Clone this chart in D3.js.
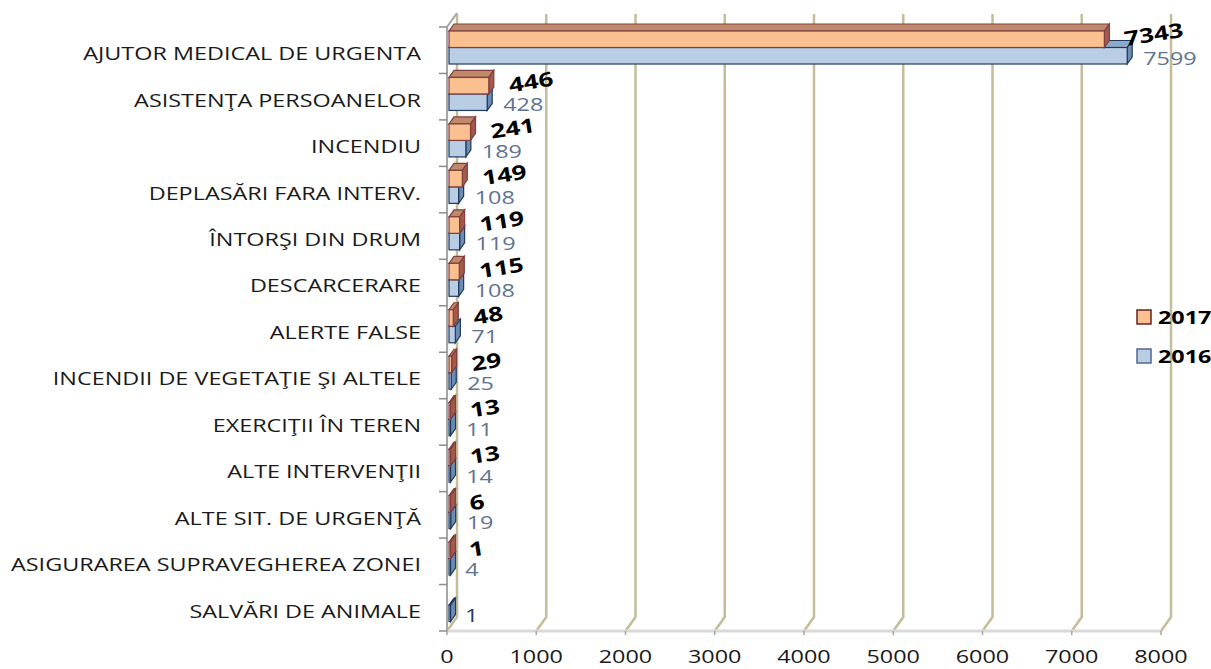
<!DOCTYPE html>
<html>
<head>
<meta charset="utf-8">
<script src="https://cdn.jsdelivr.net/npm/d3@7"></script>
<style>
  body { margin: 0; background: #fff; }
  text { font-family: "Open Sans", sans-serif; }
</style>
</head>
<body>
<div id="chart"></div>
<script>
var categories = [
  "AJUTOR MEDICAL DE URGENTA",
  "ASISTENŢA PERSOANELOR",
  "INCENDIU",
  "DEPLASĂRI FARA INTERV.",
  "ÎNTORŞI DIN DRUM",
  "DESCARCERARE",
  "ALERTE FALSE",
  "INCENDII DE VEGETAŢIE ŞI ALTELE",
  "EXERCIŢII ÎN TEREN",
  "ALTE INTERVENŢII",
  "ALTE SIT. DE URGENŢĂ",
  "ASIGURAREA SUPRAVEGHEREA ZONEI",
  "SALVĂRI DE ANIMALE"
];
var values2017 = [7343, 446, 241, 149, 119, 115, 48, 29, 13, 13, 6, 1, 0];
var values2016 = [7599, 428, 189, 108, 119, 108, 71, 25, 11, 14, 19, 4, 1];
var seriesNames = ["2017", "2016"];
var xTicks = [0, 1000, 2000, 3000, 4000, 5000, 6000, 7000, 8000];

var width = 1211, height = 669;
var SX = 1.3;          // horizontal stretch of the text
var wallDx = 10, wallDy = -14;   // depth of the back wall
var barDx = 5, barDy = -7;       // depth of each bar

var colors = {
  "2017": { face: "#fac090", top: "#bf8a6c", side: "#a5594a", line: "#7f3f3f", label: "#000" },
  "2016": { face: "#b9cde5", top: "#8eaacb", side: "#6d8cb4", line: "#1f3a5f", label: "#5f7391" }
};

var svg = d3.select("#chart").append("svg")
  .attr("width", width)
  .attr("height", height);

var x = d3.scaleLinear().domain([0, 8000]).range([447, 1161]);
var y = d3.scaleBand().domain(categories).range([27, 631]);
var ySeries = d3.scaleBand().domain(seriesNames).range([4, 37]);
var floorY = y.range()[1];
var topY = y.range()[0];

function sText(g, px, py, str, rot) {
  return g.append("text")
    .attr("transform", "translate(" + px + "," + py + ")" + (rot ? " rotate(" + rot + ")" : "") + " scale(" + SX + ",1)")
    .attr("dominant-baseline", "central")
    .text(str);
}

// back wall gridlines with slant to the floor front edge
var grid = svg.append("g");
xTicks.forEach(function (t) {
  grid.append("path")
    .attr("d", "M" + (x(t) + wallDx) + "," + (topY + wallDy + 1) +
      "L" + (x(t) + wallDx) + "," + (floorY + wallDy) +
      "L" + x(t) + "," + floorY)
    .attr("fill", "none")
    .attr("stroke", "#c4bd97")
    .attr("stroke-width", 2.5);
});

// floor front edge
svg.append("line")
  .attr("x1", x(0)).attr("x2", x(8000))
  .attr("y1", floorY).attr("y2", floorY)
  .attr("stroke", "#d9d9d9").attr("stroke-width", 3);

// bottom tick marks
xTicks.forEach(function (t) {
  svg.append("line")
    .attr("x1", x(t)).attr("x2", x(t))
    .attr("y1", floorY).attr("y2", floorY + 4)
    .attr("stroke", "#a6a6a6").attr("stroke-width", 1.5);
});

// left axis
svg.append("path")
  .attr("d", "M" + (x(0) + wallDx) + "," + (topY + wallDy) + "L" + x(0) + "," + topY + "L" + x(0) + "," + floorY)
  .attr("fill", "none").attr("stroke", "#a6a6a6").attr("stroke-width", 2);
d3.range(categories.length + 1).forEach(function (i) {
  var yy = topY + i * y.step();
  svg.append("line")
    .attr("x1", x(0) - 8).attr("x2", x(0))
    .attr("y1", yy).attr("y2", yy)
    .attr("stroke", "#8c8c8c").attr("stroke-width", 1.5);
});

// category labels
var catG = svg.append("g")
  .attr("font-size", 18)
  .attr("fill", "#1a1a1a")
  .attr("text-anchor", "end");
categories.forEach(function (c) {
  sText(catG, 421, y(c) + y.bandwidth() / 2 + 3, c);
});

// x tick labels
var tickG = svg.append("g")
  .attr("font-size", 18)
  .attr("fill", "#1a1a1a")
  .attr("text-anchor", "middle");
xTicks.forEach(function (t) {
  sText(tickG, x(t), 656, t);
});

// bars, from bottom row to top; blue before orange
var bars = svg.append("g");
function drawBar(val, cat, s) {
  if (!val) return;
  var c = colors[s];
  var x0 = x(0) + 2;
  var w = Math.max(x(val) - x(0), 1.5);
  var yy = y(cat) + ySeries(s);
  var h = ySeries.bandwidth();
  bars.append("path")
    .attr("d", "M" + x0 + "," + yy + "L" + (x0 + w) + "," + yy +
      "L" + (x0 + w + barDx) + "," + (yy + barDy) + "L" + (x0 + barDx) + "," + (yy + barDy) + "Z")
    .attr("fill", c.top).attr("stroke", c.line).attr("stroke-width", 1.2);
  bars.append("path")
    .attr("d", "M" + (x0 + w) + "," + yy + "L" + (x0 + w + barDx) + "," + (yy + barDy) +
      "L" + (x0 + w + barDx) + "," + (yy + h + barDy) + "L" + (x0 + w) + "," + (yy + h) + "Z")
    .attr("fill", c.side).attr("stroke", c.line).attr("stroke-width", 1.2);
  bars.append("rect")
    .attr("x", x0).attr("y", yy)
    .attr("width", w).attr("height", h)
    .attr("fill", c.face).attr("stroke", c.line).attr("stroke-width", 1.2);
}
for (var i = categories.length - 1; i >= 0; i--) {
  drawBar(values2016[i], categories[i], "2016");
  drawBar(values2017[i], categories[i], "2017");
}

// data labels
var lab = svg.append("g");
categories.forEach(function (cat, i) {
  var v16 = values2016[i], v17 = values2017[i];
  if (v16) {
    sText(lab, x(v16) + 18, y(cat) + ySeries("2016") + ySeries.bandwidth() / 2 + 2, v16)
      .attr("font-size", 18)
      .attr("fill", v17 ? colors["2016"].label : "#1f3864");
  }
  if (v17) {
    sText(lab, x(v17) + 22, y(cat) + ySeries("2017") + ySeries.bandwidth() / 2 - 1, v17, -9)
      .attr("font-size", 20)
      .attr("font-weight", "bold")
      .attr("fill", colors["2017"].label);
  }
});

// legend
var leg = svg.append("g");
seriesNames.forEach(function (s, i) {
  var ly = 317 + i * 39;
  leg.append("rect")
    .attr("x", 1137).attr("y", ly - 7)
    .attr("width", 14).attr("height", 14)
    .attr("fill", colors[s].face)
    .attr("stroke", s === "2017" ? "#632523" : "#4f6a8f")
    .attr("stroke-width", 1.5);
  sText(leg, 1158, ly, s)
    .attr("font-size", 18)
    .attr("font-weight", "bold")
    .attr("fill", "#000");
});
</script>
</body>
</html>
